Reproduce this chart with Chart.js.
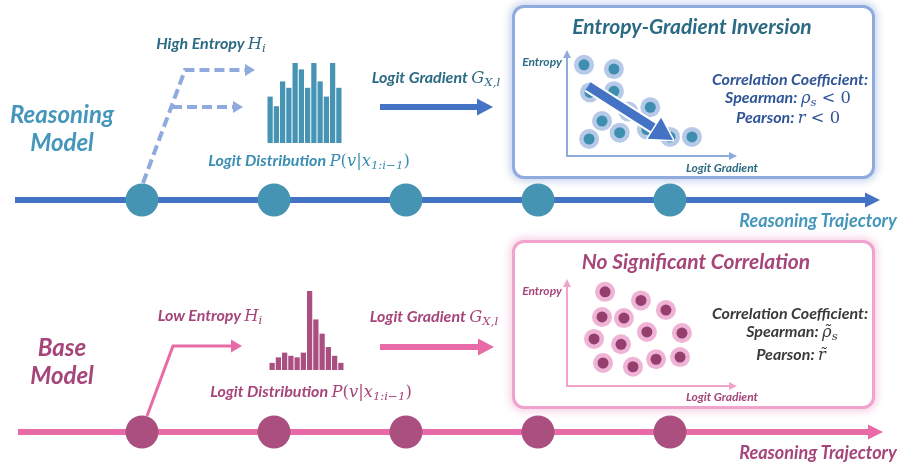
<!DOCTYPE html>
<html>
<head>
<meta charset="utf-8">
<script src="https://cdn.jsdelivr.net/npm/chart.js@4.4.1/dist/chart.umd.min.js"></script>
<style>
  html, body { margin: 0; padding: 0; background: #fff; }
  #stage { position: relative; width: 898px; height: 463px; overflow: hidden;
           font-family: Lato, 'Open Sans', sans-serif; font-weight: 700; font-style: italic; }
  canvas, .t, .box { position: absolute; }
  .t { white-space: nowrap; line-height: 1; transform: translate(-50%, -50%); }
  .m { font-family: 'DejaVu Serif', serif; font-weight: 400; font-style: italic; font-size: 1.02em; }
  .m sub { font-size: 0.72em; vertical-align: -0.3em; font-style: italic; }
  .up { font-style: normal; }
  .box { box-sizing: border-box; border-radius: 12px; background: #fff; }
  #boxTop { left: 512px; top: 5px; width: 363px; height: 174px; border: 3px solid #8faadc;
            box-shadow: 0 0 7px 3px rgba(143,170,220,0.45); }
  #boxBase { left: 512px; top: 240px; width: 363px; height: 169px; border: 3px solid #f0a3cc;
             box-shadow: 0 0 7px 3px rgba(240,163,204,0.45); }
</style>
</head>
<body>
<div id="stage">
  <canvas id="flow" width="898" height="463" style="left:0;top:0"></canvas>
  <div class="box" id="boxTop"></div>
  <div class="box" id="boxBase"></div>
  <canvas id="histTop" width="75" height="80" style="left:267px;top:63px"></canvas>
  <canvas id="histBase" width="75" height="79" style="left:269px;top:291px"></canvas>
  <canvas id="scatTop" width="190" height="126" style="left:557px;top:40px"></canvas>
  <canvas id="scatBase" width="190" height="127" style="left:557px;top:269px"></canvas>

  <!-- reasoning model -->
  <div class="t" style="left:62px;top:114px;font-size:24px;color:#4596bb">Reasoning</div>
  <div class="t" style="left:62px;top:142px;font-size:24px;color:#4596bb">Model</div>
  <div class="t" style="left:211px;top:45px;font-size:16px;color:#2b6a83">High Entropy <span class="m">H<sub>i</sub></span></div>
  <div class="t" style="left:436px;top:79px;font-size:16px;color:#2b6a83">Logit Gradient <span class="m">G<sub>X,l</sub></span></div>
  <div class="t" style="left:309px;top:162px;font-size:16px;color:#3a8db3">Logit Distribution <span class="m">P<span class="up">(</span>v<span class="up">|</span>x<sub>1:i−1</sub><span class="up">)</span></span></div>
  <div class="t" style="left:692px;top:25px;font-size:21px;color:#2b6a83">Entropy-Gradient Inversion</div>
  <div class="t" style="left:542px;top:62px;font-size:12px;color:#2b6a83">Entropy</div>
  <div class="t" style="left:722px;top:168px;font-size:12px;color:#2b6a83">Logit Gradient</div>
  <div class="t" style="left:790px;top:79px;font-size:16px;color:#2f5597">Correlation Coefficient:</div>
  <div class="t" style="left:788px;top:99px;font-size:16px;color:#2f5597">Spearman: <span class="m">ρ<sub>s</sub> <span class="up">&lt; 0</span></span></div>
  <div class="t" style="left:788px;top:118px;font-size:16px;color:#2f5597">Pearson: <span class="m">r <span class="up">&lt; 0</span></span></div>
  <div class="t" style="left:818px;top:220px;font-size:18px;color:#4596bb">Reasoning Trajectory</div>

  <!-- base model -->
  <div class="t" style="left:62px;top:347px;font-size:24px;color:#a6457a">Base</div>
  <div class="t" style="left:62px;top:375px;font-size:24px;color:#a6457a">Model</div>
  <div class="t" style="left:210px;top:317px;font-size:16px;color:#a6457a">Low Entropy <span class="m">H<sub>i</sub></span></div>
  <div class="t" style="left:434px;top:318px;font-size:16px;color:#a6457a">Logit Gradient <span class="m">G<sub>X,l</sub></span></div>
  <div class="t" style="left:311px;top:393px;font-size:16px;color:#a6457a">Logit Distribution <span class="m">P<span class="up">(</span>v<span class="up">|</span>x<sub>1:i−1</sub><span class="up">)</span></span></div>
  <div class="t" style="left:696px;top:260px;font-size:21px;color:#a6457a">No Significant Correlation</div>
  <div class="t" style="left:542px;top:291px;font-size:12px;color:#a6457a">Entropy</div>
  <div class="t" style="left:722px;top:397px;font-size:12px;color:#a6457a">Logit Gradient</div>
  <div class="t" style="left:790px;top:313px;font-size:16px;color:#3a3a3a">Correlation Coefficient:</div>
  <div class="t" style="left:792px;top:333px;font-size:16px;color:#3a3a3a">Spearman: <span class="m">ρ̃<sub>s</sub></span></div>
  <div class="t" style="left:791px;top:355px;font-size:16px;color:#3a3a3a">Pearson: <span class="m">r̃</span></div>
  <div class="t" style="left:818px;top:452px;font-size:18px;color:#a6457a">Reasoning Trajectory</div>
</div>

<script>
// tokens along the trajectory
const steps = [1, 2, 3, 4, 5];

// logit distributions over 12 vocabulary entries
const vocab = ['v1', 'v2', 'v3', 'v4', 'v5', 'v6', 'v7', 'v8', 'v9', 'v10', 'v11', 'v12'];
const probTop = [0.58, 0.46, 0.77, 0.69, 1.0, 0.92, 0.69, 1.0, 0.77, 0.58, 1.0, 0.69];
const probBase = [0.09, 0.16, 0.22, 0.18, 0.16, 0.22, 1.0, 0.64, 0.46, 0.29, 0.18, 0.09];

// entropy vs logit gradient samples (0..10 units)
const gradTop = [1.0, 2.76, 1.35, 2.76, 3.6, 4.9, 2.06, 1.3, 3.1, 4.7, 6.06, 7.35];
const entTop = [8.6, 8.2, 6.0, 6.1, 4.2, 4.6, 3.3, 1.6, 2.2, 2.5, 1.8, 1.8];
const gradBase = [2.24, 4.35, 5.82, 2.06, 3.35, 1.59, 3.18, 4.7, 6.76, 2.12, 3.88, 5.24, 6.65];
const entBase = [8.8, 8.0, 7.1, 6.45, 6.35, 4.4, 3.9, 5.05, 4.95, 2.15, 1.8, 2.5, 2.7];

const BLUE = '#4472c4', TEAL = '#4594b4', LIGHTBLUE = '#8faadc';
const PINK = '#e86aa6', PLUM = '#ab4e80', LIGHTPINK = '#f0a3cc';

// arrowheads: last point of a dataset is the base of the head
const arrowHeads = {
    id: 'arrowHeads',
    afterDatasetsDraw(chart) {
        const ctx = chart.ctx;
        chart.data.datasets.forEach((ds, i) => {
            if (!ds.head) return;
            const pts = chart.getDatasetMeta(i).data;
            const a = pts[pts.length - 2], b = pts[pts.length - 1];
            const ang = Math.atan2(b.y - a.y, b.x - a.x);
            ctx.save();
            ctx.translate(b.x, b.y);
            ctx.rotate(ang);
            ctx.beginPath();
            ctx.moveTo(ds.head.len, 0);
            ctx.lineTo(0, -ds.head.width / 2);
            ctx.lineTo(0, ds.head.width / 2);
            ctx.closePath();
            if (ds.head.outline) {
                ctx.lineWidth = 3;
                ctx.lineJoin = 'round';
                ctx.strokeStyle = ds.head.outline;
                ctx.stroke();
            }
            ctx.fillStyle = ds.head.color || ds.borderColor;
            ctx.fill();
            ctx.restore();
        });
    }
};

function seg(points, color, width, extra) {
    return Object.assign({
        type: 'line',
        data: points.map(p => ({ x: p[0], y: p[1] })),
        borderColor: color,
        borderWidth: width,
        borderCapStyle: 'butt',
        pointRadius: 0,
        fill: false,
        tension: 0,
        clip: false,
        xAxisID: 'x',
        order: 5
    }, extra || {});
}

function nodes(y, color) {
    return {
        type: 'scatter',
        data: steps.map(s => ({ x: s, y: y })),
        xAxisID: 's',
        backgroundColor: color,
        borderWidth: 0,
        pointRadius: 16.5,
        pointHoverRadius: 16.5,
        clip: false,
        order: 1
    };
}

const TOP_Y = 200, BASE_Y = 432;

new Chart(document.getElementById('flow'), {
    type: 'line',
    data: {
        datasets: [
            seg([[15, TOP_Y], [865, TOP_Y]], BLUE, 6, { head: { len: 15, width: 15 } }),
            seg([[143, 183], [185, 70], [245, 70]], LIGHTBLUE, 4, { borderDash: [10, 5], head: { len: 10, width: 12 } }),
            seg([[172, 107], [233, 107]], LIGHTBLUE, 4, { borderDash: [10, 5], head: { len: 10, width: 12 } }),
            seg([[380, 107], [477, 107]], BLUE, 6, { head: { len: 16, width: 17 } }),
            nodes(TOP_Y, TEAL),
            seg([[18, BASE_Y], [868, BASE_Y]], PINK, 6, { head: { len: 15, width: 15 } }),
            seg([[147, 416], [173, 346], [231, 346]], PINK, 3, { head: { len: 11, width: 13 } }),
            seg([[380, 347], [478, 347]], PINK, 6, { head: { len: 16, width: 17 } }),
            nodes(BASE_Y, PLUM)
        ]
    },
    options: {
        responsive: false,
        animation: false,
        events: [],
        layout: { padding: 0, autoPadding: false },
        plugins: { legend: { display: false }, tooltip: { enabled: false } },
        scales: {
            x: { type: 'linear', min: 0, max: 898, display: false },
            s: { type: 'linear', axis: 'x', min: 1 - 142 / 132, max: 1 + (898 - 142) / 132, display: false },
            y: { type: 'linear', min: 0, max: 463, reverse: true, display: false }
        }
    },
    plugins: [arrowHeads]
});

function histogram(id, values, color) {
    new Chart(document.getElementById(id), {
        type: 'bar',
        data: {
            labels: vocab,
            datasets: [{
                data: values,
                backgroundColor: color,
                borderWidth: 0,
                barPercentage: 0.84,
                categoryPercentage: 1
            }]
        },
        options: {
            responsive: false,
            animation: false,
            events: [],
            layout: { padding: 0, autoPadding: false },
            plugins: { legend: { display: false }, tooltip: { enabled: false } },
            scales: {
                x: { display: false },
                y: { display: false, min: 0, max: 1 }
            }
        }
    });
}

histogram('histTop', probTop, TEAL);
histogram('histBase', probBase, PLUM);

// small entropy / gradient axes with arrow tips at the chart area edges
const scatterAxes = {
    id: 'scatterAxes',
    beforeDatasetsDraw(chart, args, opts) {
        const { left, right, top, bottom } = chart.chartArea;
        const ctx = chart.ctx;
        const L = 8, W = 8;
        ctx.save();
        ctx.strokeStyle = opts.color;
        ctx.fillStyle = opts.color;
        ctx.lineWidth = 2;
        ctx.beginPath();
        ctx.moveTo(left, top + L);
        ctx.lineTo(left, bottom);
        ctx.lineTo(right - L, bottom);
        ctx.stroke();
        ctx.beginPath();
        ctx.moveTo(left, top);
        ctx.lineTo(left - W / 2, top + L);
        ctx.lineTo(left + W / 2, top + L);
        ctx.closePath();
        ctx.fill();
        ctx.beginPath();
        ctx.moveTo(right, bottom);
        ctx.lineTo(right - L, bottom - W / 2);
        ctx.lineTo(right - L, bottom + W / 2);
        ctx.closePath();
        ctx.fill();
        ctx.restore();
    }
};

function scatter(id, grad, ent, halo, dot, axisColor, extra) {
    const pts = grad.map((g, i) => ({ x: g, y: ent[i] }));
    const datasets = [
        { type: 'scatter', data: pts, backgroundColor: halo, borderWidth: 0, pointRadius: 10, clip: false, order: 3 },
        { type: 'scatter', data: pts, backgroundColor: dot, borderWidth: 0, pointRadius: 5.5, clip: false, order: 2 }
    ].concat(extra || []);
    new Chart(document.getElementById(id), {
        type: 'scatter',
        data: { datasets: datasets },
        options: {
            responsive: false,
            animation: false,
            events: [],
            layout: { padding: 10, autoPadding: false },
            plugins: { legend: { display: false }, tooltip: { enabled: false }, scatterAxes: { color: axisColor } },
            scales: {
                x: { type: 'linear', min: 0, max: 10, display: false },
                y: { type: 'linear', min: 0, max: 10, display: false }
            }
        },
        plugins: [scatterAxes, arrowHeads]
    });
}

// downward trend arrow across the reasoning-model points
const trend = [{ x: 1.24, y: 6.6 }, { x: 5.14, y: 2.62 }];

scatter('scatTop', gradTop, entTop, '#b7c9e8', '#3e8eaf', LIGHTBLUE, [
    { type: 'line', data: trend, borderColor: '#ffffff', borderWidth: 13, borderCapStyle: 'butt', pointRadius: 0, clip: false, order: 1 },
    { type: 'line', data: trend, borderColor: BLUE, borderWidth: 9, borderCapStyle: 'butt', pointRadius: 0, clip: false, order: 0,
      head: { len: 22, width: 25, outline: '#ffffff', color: BLUE } }
]);
scatter('scatBase', gradBase, entBase, '#efb3d6', '#953f6e', LIGHTPINK);
</script>
</body>
</html>
